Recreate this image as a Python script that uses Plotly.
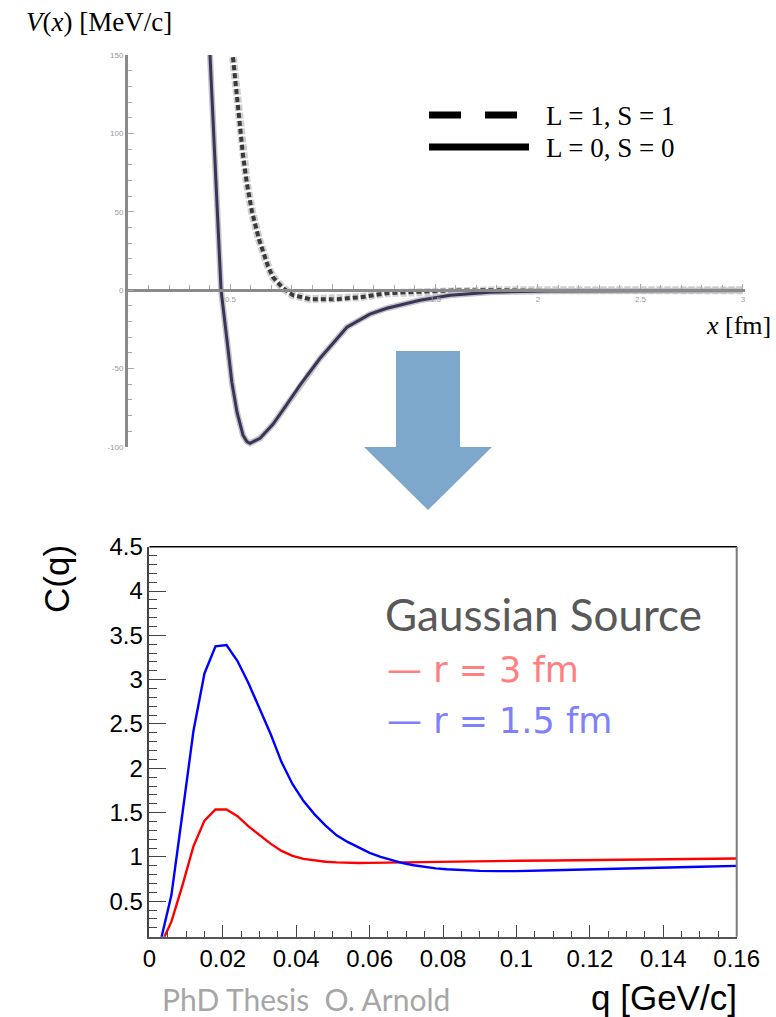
import plotly.graph_objects as go

W, H = 776, 1017
def px(x): return x / W
def py(y): return 1 - y / H

# ---------------- top chart: potentials ----------------
x_s0 = [0.400, 0.454, 0.483, 0.507, 0.532, 0.561, 0.580, 0.595, 0.644, 0.707, 0.776, 0.839,
        0.937, 1.068, 1.180, 1.263, 1.424, 1.571, 1.766, 2.059, 2.500, 3.000]
v_s0 = [150, 0, -32, -59, -78, -92.5, -96.5, -97.6, -94.4, -85.5, -72.7, -60.6,
        -43.4, -23.6, -15.3, -11.5, -6.4, -3.2, -1.3, -0.5, -0.3, -0.2]
x_s1 = [0.512, 0.527, 0.546, 0.561, 0.580, 0.605, 0.639, 0.683, 0.707, 0.756, 0.805, 0.888,
        1.020, 1.132, 1.263, 1.424, 1.537, 1.815, 3.000]
v_s1 = [148.6, 130, 104, 86, 68, 50, 32.5, 15.3, 8.3, 1.3, -3.2, -5.7,
        -5.7, -4.5, -1.9, -1.3, -0.3, 0, 0]
top_xticks = [0.5, 1, 1.5, 2, 2.5, 3]
top_xlabels = ["0.5", "1", "1.5", "2", "2.5", "3"]
top_yticks = [-100, -50, 0, 50, 100, 150]
top_ylabels = ["-100", "-50", "0", "50", "100", "150"]

# ---------------- bottom chart: correlation function ----------------
q = [0.003, 0.006, 0.009, 0.012, 0.015, 0.018, 0.021, 0.024, 0.027, 0.030, 0.033, 0.036,
     0.039, 0.042, 0.045, 0.048, 0.051, 0.054, 0.057, 0.060, 0.063, 0.066, 0.069, 0.072,
     0.075, 0.078, 0.081, 0.084, 0.087, 0.090, 0.095, 0.100, 0.110, 0.120, 0.130, 0.140,
     0.150, 0.160]
c_r3 = [0.00, 0.27, 0.68, 1.12, 1.41, 1.535, 1.535, 1.46, 1.345, 1.245, 1.15, 1.068,
        1.012, 0.978, 0.960, 0.946, 0.939, 0.934, 0.932, 0.933, 0.935, 0.937, 0.940, 0.943,
        0.945, 0.947, 0.949, 0.951, 0.952, 0.953, 0.955, 0.957, 0.960, 0.964, 0.968, 0.972,
        0.977, 0.982]
c_r15 = [0.04, 0.57, 1.49, 2.42, 3.07, 3.375, 3.39, 3.21, 2.96, 2.68, 2.39, 2.07,
         1.82, 1.63, 1.48, 1.353, 1.244, 1.169, 1.103, 1.046, 1.001, 0.964, 0.931, 0.906,
         0.887, 0.871, 0.861, 0.853, 0.847, 0.843, 0.840, 0.840, 0.849, 0.861, 0.872, 0.881,
         0.890, 0.899]

fig = go.Figure()

# top curves (halo + line to mimic the blurred look)
fig.add_trace(go.Scatter(x=x_s1, y=v_s1, mode="lines", xaxis="x2", yaxis="y2",
                         line=dict(color="#cfcfcf", width=8, dash="6px,2px"), hoverinfo="skip"))
fig.add_trace(go.Scatter(x=x_s1, y=v_s1, mode="lines", xaxis="x2", yaxis="y2",
                         line=dict(color="#3a3a3a", width=4, dash="5px,3px"), name="L=1,S=1"))
fig.add_trace(go.Scatter(x=x_s0, y=v_s0, mode="lines", xaxis="x2", yaxis="y2",
                         line=dict(color="#c4c4c8", width=6), hoverinfo="skip"))
fig.add_trace(go.Scatter(x=x_s0, y=v_s0, mode="lines", xaxis="x2", yaxis="y2",
                         line=dict(color="#3b3459", width=3), name="L=0,S=0"))

# bottom curves
fig.add_trace(go.Scatter(x=q, y=c_r3, mode="lines", line=dict(color="#ff0000", width=2.4),
                         name="r = 3 fm"))
fig.add_trace(go.Scatter(x=q, y=c_r15, mode="lines", line=dict(color="#0000ff", width=2.4),
                         name="r = 1.5 fm"))

tickfont = dict(family="Liberation Sans, Arial, sans-serif", size=24, color="black")

layout = dict(
    width=W, height=H, margin=dict(l=0, r=0, t=0, b=0, autoexpand=False),
    paper_bgcolor="white", plot_bgcolor="rgba(0,0,0,0)", showlegend=False,
    xaxis=dict(domain=[px(149.4), px(736.7)], range=[0, 0.16], anchor="y", automargin=False,
               tickmode="linear", tick0=0, dtick=0.02, ticks="inside", ticklen=12,
               tickcolor="#444", tickwidth=1.3, showline=True, linecolor="#555", linewidth=1.5,
               showgrid=False, zeroline=False, tickfont=tickfont,
               minor=dict(dtick=0.005, ticklen=6, ticks="inside", tickcolor="#444", tickwidth=1.3,
                          showgrid=False)),
    yaxis=dict(domain=[py(936.7), py(546.7)], range=[0.1, 4.5], anchor="x", automargin=False,
               tickmode="linear", tick0=0.5, dtick=0.5, ticks="inside", ticklen=17,
               tickcolor="#444", tickwidth=1.3, showline=True, linecolor="#444", linewidth=1.5,
               showgrid=False, zeroline=False, tickfont=tickfont,
               minor=dict(dtick=0.1, ticklen=8, ticks="inside", tickcolor="#444", tickwidth=1.3,
                          showgrid=False)),
    xaxis2=dict(domain=[px(128), px(745)], range=[0, 3.01], anchor="free", position=py(290),
                automargin=False,
                tickvals=top_xticks, ticktext=top_xlabels, ticks="inside", ticklen=5,
                tickcolor="#aaa", showline=True, linecolor="#8a8a8a", linewidth=3,
                showgrid=False, zeroline=False,
                tickfont=dict(family="Liberation Sans", size=8, color="#9a9a9a"),
                minor=dict(dtick=0.1, ticklen=4, ticks="inside", tickcolor="#aaa", showgrid=False)),
    yaxis2=dict(domain=[py(447), py(55)], range=[-100, 150], anchor="x2", automargin=False,
                tickvals=top_yticks, ticktext=top_ylabels, ticks="inside", ticklen=6,
                tickcolor="#aaa", showline=True, linecolor="#8a8a8a", linewidth=3,
                showgrid=False, zeroline=False,
                tickfont=dict(family="Liberation Sans", size=8, color="#9a9a9a"),
                minor=dict(dtick=10, ticklen=4, ticks="inside", tickcolor="#aaa", showgrid=False)),
)

shapes = [
    # bottom frame top / right
    dict(type="line", xref="paper", yref="paper", x0=px(149.4), x1=px(737), y0=py(546.7), y1=py(546.7),
         line=dict(color="black", width=1.5)),
    dict(type="line", xref="paper", yref="paper", x0=px(736.7), x1=px(736.7), y0=py(546.7), y1=py(936.7),
         line=dict(color="#7a7a7a", width=2)),
    # top legend samples
    dict(type="line", xref="paper", yref="paper", x0=px(429), x1=px(461), y0=py(115), y1=py(115),
         line=dict(color="black", width=7)),
    dict(type="line", xref="paper", yref="paper", x0=px(485), x1=px(517), y0=py(115), y1=py(115),
         line=dict(color="black", width=7)),
    dict(type="line", xref="paper", yref="paper", x0=px(429), x1=px(529), y0=py(147), y1=py(147),
         line=dict(color="black", width=7)),
    # down arrow
    dict(type="path", xref="paper", yref="paper", fillcolor="#7ea8cb", line=dict(width=0),
         path="M {a},{b} L {c},{b} L {c},{d} L {e},{d} L {f},{g} L {h},{d} L {a2},{d} Z".format(
             a=px(396), b=py(351), c=px(460), d=py(447), e=px(492), f=px(428), g=py(510),
             h=px(364), a2=px(396))),
]
layout["shapes"] = shapes

serif = "Liberation Serif, Times New Roman, serif"
sans = "Liberation Sans, Arial, sans-serif"
def ann(text, x, y, size, color="black", family=sans, xanchor="left", yanchor="middle", angle=0):
    return dict(text=text, x=px(x), y=py(y), xref="paper", yref="paper", showarrow=False,
                xanchor=xanchor, yanchor=yanchor, textangle=angle,
                font=dict(size=size, color=color, family=family))

layout["annotations"] = [
    ann("<i>V</i>(<i>x</i>) [MeV/c]", 24, 22, 27, family=serif),
    ann("<i>x</i> [fm]", 773, 325, 26, family=serif, xanchor="right"),
    ann("L = 1, S = 1", 544, 116, 27, family=serif),
    ann("L = 0, S = 0", 544, 148, 27, family=serif),
    ann("C(q)", 56, 579, 35, angle=-90, xanchor="center"),
    ann("q [GeV/c]", 739, 997, 35, xanchor="right"),
    ann("Gaussian Source", 383, 614, 44, color="#595959", family="Lato, sans-serif"),
    ann("— r = 3 fm", 385, 670, 35, color="#ff8080", family="DejaVu Sans, sans-serif"),
    ann("— r = 1.5 fm", 385, 721, 35, color="#8080ff", family="DejaVu Sans, sans-serif"),
    ann("PhD Thesis  O. Arnold", 160, 999, 30, color="#a6a6a6", family="Lato, sans-serif"),
]

fig.update_layout(**layout)
fig.write_html("out.html")
